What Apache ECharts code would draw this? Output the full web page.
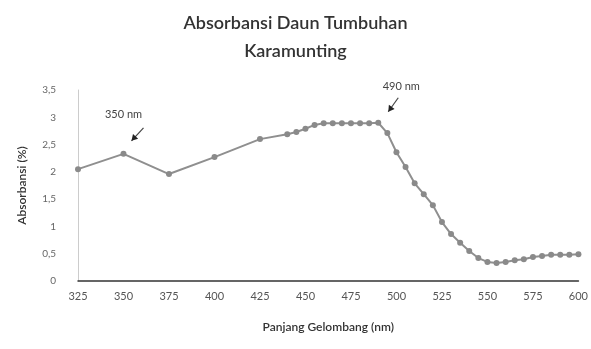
<!DOCTYPE html>
<html>
<head>
<meta charset="utf-8">
<script src="https://cdn.jsdelivr.net/npm/echarts@6/dist/echarts.min.js"></script>
<style>
  html, body { margin: 0; padding: 0; background: #fff; }
  #chart { width: 591px; height: 349px; }
</style>
</head>
<body>
<div id="chart"></div>
<script>
// Absorption spectrum of Karamunting leaves
const wavelengths = [325, 350, 375, 400, 425, 440, 445, 450, 455, 460, 465, 470, 475, 480, 485, 490,
  495, 500, 505, 510, 515, 520, 525, 530, 535, 540, 545, 550, 555, 560, 565, 570, 575, 580, 585, 590, 595, 600];
const absorbance = [2.05, 2.33, 1.96, 2.27, 2.60, 2.69, 2.73, 2.79, 2.86, 2.89, 2.89, 2.89, 2.89, 2.89, 2.89, 2.90,
  2.71, 2.36, 2.09, 1.79, 1.59, 1.39, 1.08, 0.86, 0.70, 0.55, 0.42, 0.35, 0.33, 0.35, 0.38, 0.40, 0.44, 0.46, 0.48, 0.48, 0.48, 0.49];
const yTicks = ['0', '0,5', '1', '1,5', '2', '2,5', '3', '3,5'];
const peaks = [{ nm: 350, text: '350 nm' }, { nm: 490, text: '490 nm' }];

const chart = echarts.init(document.getElementById('chart'));
const points = wavelengths.map((w, i) => [w, absorbance[i]]);
const font = 'Lato, "Open Sans", sans-serif';

chart.setOption({
  animation: false,
  title: {
    text: 'Absorbansi Daun Tumbuhan\nKaramunting',
    left: 'center',
    top: 4,
    textStyle: { fontFamily: font, fontSize: 18, fontWeight: 600, color: '#333', lineHeight: 28 }
  },
  grid: { left: 78, right: 9, top: 90, bottom: 68 },
  xAxis: {
    type: 'value',
    min: 325, max: 600, interval: 25,
    name: 'Panjang Gelombang (nm)',
    nameLocation: 'middle',
    nameGap: 40,
    nameTextStyle: { fontFamily: font, fontSize: 12, fontWeight: 600, color: '#333' },
    axisLine: { show: true, lineStyle: { color: '#333', width: 1.5 } },
    axisTick: { show: false },
    splitLine: { show: false },
    axisLabel: { fontFamily: font, fontSize: 11, color: '#555', margin: 10 }
  },
  yAxis: {
    type: 'value',
    min: 0, max: 3.5, interval: 0.5,
    name: 'Absorbansi (%)',
    nameLocation: 'middle',
    nameGap: 50,
    nameTextStyle: { fontFamily: font, fontSize: 12, fontWeight: 600, color: '#333' },
    axisLine: { show: true, lineStyle: { color: '#ccc' } },
    axisTick: { show: false },
    splitLine: { show: false },
    axisLabel: {
      fontFamily: font, fontSize: 10, color: '#666', margin: 22,
      formatter: v => yTicks[Math.round(v * 2)]
    }
  },
  series: [{
    type: 'line',
    data: points,
    symbol: 'circle',
    symbolSize: 6,
    lineStyle: { color: '#8f8f8f', width: 2 },
    itemStyle: { color: '#8a8a8a' }
  }]
});

// Peak callouts: text with a short arrow pointing down-left to the point
const graphics = [];
peaks.forEach(p => {
  const idx = wavelengths.indexOf(p.nm);
  const [px, py] = chart.convertToPixel({ seriesIndex: 0 }, [p.nm, absorbance[idx]]);
  const isFirst = p.nm === 350;
  const tail = isFirst ? [px + 20, py - 26] : [px + 20, py - 25];
  const tip = isFirst ? [px + 8, py - 13] : [px + 10, py - 11];
  const label = isFirst ? [px, py - 39] : [px + 23, py - 36];
  graphics.push({
    type: 'line',
    shape: { x1: tail[0], y1: tail[1], x2: tip[0], y2: tip[1] },
    style: { stroke: '#444', lineWidth: 1.2 }
  });
  const ang = Math.atan2(tip[1] - tail[1], tip[0] - tail[0]);
  const len = 6, half = 3.5;
  const bx = tip[0] - len * Math.cos(ang), by = tip[1] - len * Math.sin(ang);
  graphics.push({
    type: 'polygon',
    shape: { points: [
      tip,
      [bx + half * Math.sin(ang), by - half * Math.cos(ang)],
      [bx - half * Math.sin(ang), by + half * Math.cos(ang)]
    ] },
    style: { fill: '#222' }
  });
  graphics.push({
    type: 'text',
    x: label[0], y: label[1],
    style: { text: p.text, fontFamily: font, fontSize: 11, fill: '#444', align: 'center', verticalAlign: 'middle' }
  });
});
chart.setOption({ graphic: graphics });
</script>
</body>
</html>
